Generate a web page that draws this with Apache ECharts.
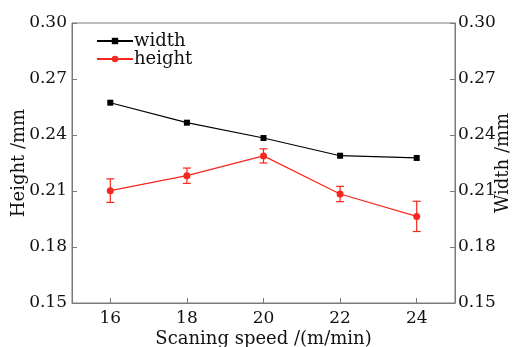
<!DOCTYPE html>
<html><head><meta charset="utf-8">
<script src="https://cdn.jsdelivr.net/npm/echarts@6/dist/echarts.min.js"></script>
<style>html,body{margin:0;padding:0;background:#fff}#c{width:512px;height:347px}</style>
</head><body><div id="c"></div>
<script>
const speeds = [16, 18, 20, 22, 24];
const widthVals = [0.2573, 0.2466, 0.2384, 0.2289, 0.2277];
const heightVals = [0.2102, 0.2182, 0.2288, 0.2084, 0.1964];
const heightErr = [0.0063, 0.0041, 0.0038, 0.0041, 0.0081];
const yTicks = [0.15, 0.18, 0.21, 0.24, 0.27, 0.30];
const xTicks = [16, 18, 20, 22, 24];

const font = 'DejaVu Serif';
const axisColor = '#7a7a7a';
const red = '#f5281e';

const chart = echarts.init(document.getElementById('c'));
const yAxisBase = {
  type: 'value', min: 0.15, max: 0.30, interval: 0.03,
  axisLine: {show: true, lineStyle: {color: axisColor, width: 1}},
  axisTick: {show: true, inside: true, length: 5, lineStyle: {color: axisColor}},
  splitLine: {show: false},
  axisLabel: {fontFamily: font, fontSize: 17, color: '#111', formatter: v => v.toFixed(2)},
  nameLocation: 'middle', nameRotate: 90, nameMoveOverlap: false,
  nameTextStyle: {fontFamily: font, fontSize: 18, color: '#111'}
};
chart.setOption({
  animation: false,
  grid: {left: 72, right: 57, top: 23, bottom: 44, containLabel: false, outerBoundsMode: 'none',
    show: true, borderColor: axisColor, borderWidth: 1},
  legend: {
    data: ['width', 'height'], orient: 'vertical', left: 91, top: 27,
    itemWidth: 36, itemHeight: 8, itemGap: 0,
    textStyle: {fontFamily: font, fontSize: 18, color: '#111', padding: [0,0,0,-4]}
  },
  xAxis: {
    type: 'value', min: 15, max: 25,
    axisLine: {show: true, lineStyle: {color: axisColor}},
    axisTick: {show: true, inside: true, length: 5, customValues: xTicks, lineStyle: {color: axisColor}},
    axisLabel: {customValues: xTicks, fontFamily: font, fontSize: 17, color: '#111', margin: 7},
    splitLine: {show: false},
    name: 'Scaning speed /(m/min)', nameLocation: 'middle', nameGap: 27, nameMoveOverlap: false,
    nameTextStyle: {fontFamily: font, fontSize: 18, color: '#111'}
  },
  yAxis: [
    Object.assign({}, yAxisBase, {position: 'left', name: 'Height /mm', nameGap: 44,
      axisLabel: Object.assign({}, yAxisBase.axisLabel, {margin: 5})}),
    Object.assign({}, yAxisBase, {position: 'right', name: 'Width /mm', nameGap: 39,
      axisLabel: Object.assign({}, yAxisBase.axisLabel, {margin: 3})})
  ],
  series: [
    {
      name: 'width', type: 'line', yAxisIndex: 1,
      data: speeds.map((s, i) => [s, widthVals[i]]),
      symbol: 'rect', symbolSize: 6,
      lineStyle: {color: '#000', width: 1.2}, itemStyle: {color: '#000'}
    },
    {
      name: 'height', type: 'line', yAxisIndex: 0,
      data: speeds.map((s, i) => [s, heightVals[i]]),
      symbol: 'circle', symbolSize: 7,
      lineStyle: {color: red, width: 1.2}, itemStyle: {color: red}
    },
    {
      name: 'err', type: 'custom', yAxisIndex: 0,
      data: speeds.map((s, i) => [s, heightVals[i] - heightErr[i], heightVals[i] + heightErr[i]]),
      encode: {x: 0, y: [1, 2]},
      renderItem: function (params, api) {
        const x = api.value(0);
        const lo = api.coord([x, api.value(1)]);
        const hi = api.coord([x, api.value(2)]);
        const w = 4;
        const st = {stroke: red, lineWidth: 1.2};
        return {type: 'group', children: [
          {type: 'line', shape: {x1: lo[0], y1: lo[1], x2: hi[0], y2: hi[1]}, style: st},
          {type: 'line', shape: {x1: lo[0]-w, y1: lo[1], x2: lo[0]+w, y2: lo[1]}, style: st},
          {type: 'line', shape: {x1: hi[0]-w, y1: hi[1], x2: hi[0]+w, y2: hi[1]}, style: st}
        ]};
      },
      z: 1
    }
  ]
});
</script></body></html>
